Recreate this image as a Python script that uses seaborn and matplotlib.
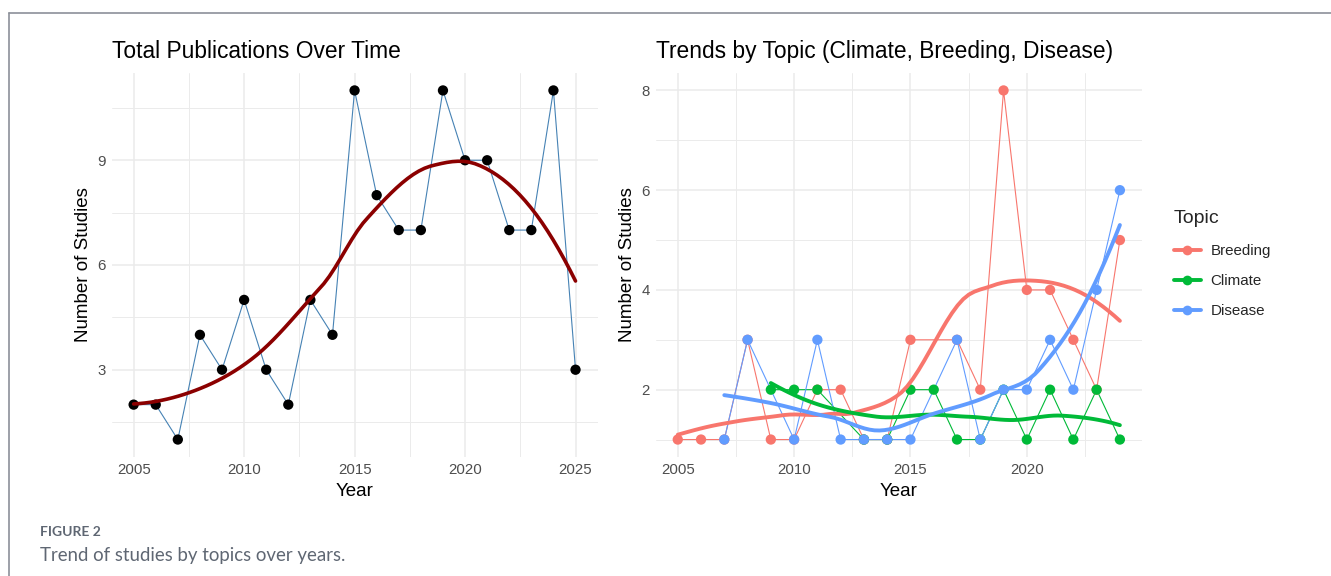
import numpy as np
import pandas as pd
import matplotlib
matplotlib.use("Agg")
import matplotlib.pyplot as plt
from matplotlib.lines import Line2D
from matplotlib.ticker import MultipleLocator
import seaborn as sns

# ---- data -------------------------------------------------------------
total_years = [2005, 2006, 2007, 2008, 2009, 2010, 2011, 2012, 2013, 2014, 2015,
               2016, 2017, 2018, 2019, 2020, 2021, 2022, 2023, 2024, 2025]
total_counts = [2, 2, 1, 4, 3, 5, 3, 2, 5, 4, 11, 8, 7, 7, 11, 9, 9, 7, 7, 11, 3]

breeding_years = [2005, 2006, 2007, 2008, 2009, 2010, 2011, 2012, 2013, 2014,
                  2015, 2017, 2018, 2019, 2020, 2021, 2022, 2023, 2024]
breeding_counts = [1, 1, 1, 3, 1, 1, 2, 2, 1, 1, 3, 3, 2, 8, 4, 4, 3, 2, 5]

climate_years = [2009, 2010, 2011, 2013, 2014, 2015, 2016, 2017, 2018, 2019,
                 2020, 2021, 2022, 2023, 2024]
climate_counts = [2, 2, 2, 1, 1, 2, 2, 1, 1, 2, 1, 2, 1, 2, 1]

disease_years = [2007, 2008, 2010, 2011, 2012, 2013, 2014, 2015, 2017, 2018,
                 2019, 2020, 2021, 2022, 2023, 2024]
disease_counts = [1, 3, 1, 3, 1, 1, 1, 1, 3, 1, 2, 2, 3, 2, 4, 6]

topics = ["Breeding", "Climate", "Disease"]
topic_colors = {"Breeding": "#F8766D", "Climate": "#00BA38", "Disease": "#619CFF"}

topic_df = pd.concat([
    pd.DataFrame({"Year": breeding_years, "Count": breeding_counts, "Topic": "Breeding"}),
    pd.DataFrame({"Year": climate_years, "Count": climate_counts, "Topic": "Climate"}),
    pd.DataFrame({"Year": disease_years, "Count": disease_counts, "Topic": "Disease"}),
], ignore_index=True)
total_df = pd.DataFrame({"Year": total_years, "Count": total_counts})


# ---- loess smoother (local quadratic, tricube weights, kd-tree vertices
#      with cubic Hermite interpolation between them) ---------------------
def _local_fit(x, y, x0, q):
    d = np.abs(x - x0)
    h = np.sort(d)[q - 1]
    w = np.clip(1 - (d / h) ** 3, 0, None) ** 3
    X = np.column_stack([np.ones(len(x)), x - x0, (x - x0) ** 2])
    sw = np.sqrt(w)
    beta, *_ = np.linalg.lstsq(X * sw[:, None], y * sw, rcond=None)
    return beta[0], beta[1]


def loess(x, y, span=0.75, cell=0.2, n_out=80):
    order = np.argsort(x)
    x = np.asarray(x, float)[order]
    y = np.asarray(y, float)[order]
    n = len(x)
    q = int(np.floor(n * span))
    fc = int(np.floor(n * span * cell))
    mu = 0.005 * (x.max() - x.min())
    verts = {x.min() - mu, x.max() + mu}

    def split(lo, hi):
        if hi - lo + 1 <= fc:
            return
        m = (lo + 1 + hi + 1) // 2 - 1
        verts.add((x[m] + x[m + 1]) / 2)
        split(lo, m)
        split(m + 1, hi)

    split(0, n - 1)
    v = np.array(sorted(verts))
    vals = np.array([_local_fit(x, y, vi, q) for vi in v])
    xs = np.linspace(x.min(), x.max(), n_out)
    out = []
    for z in xs:
        i = min(np.searchsorted(v, z, side="right") - 1, len(v) - 2)
        h = v[i + 1] - v[i]
        t = (z - v[i]) / h
        f0, s0 = vals[i]
        f1, s1 = vals[i + 1]
        out.append((2 * t**3 - 3 * t**2 + 1) * f0 + (t**3 - 2 * t**2 + t) * h * s0
                   + (-2 * t**3 + 3 * t**2) * f1 + (t**3 - t**2) * h * s1)
    return xs, np.array(out)


# ---- style ------------------------------------------------------------
sns.set_theme(style="white")
plt.rcParams["font.family"] = ["Liberation Sans", "DejaVu Sans"]

GRID = "#EBEBEB"
TICK = "#4D4D4D"

fig = plt.figure(figsize=(13.31, 5.76), dpi=100)
ax1 = fig.add_axes([0.0838, 0.2066, 0.3652, 0.6667])
ax2 = fig.add_axes([0.4926, 0.2066, 0.3654, 0.6667])


def style_axes(ax, title):
    for s in ax.spines.values():
        s.set_visible(False)
    ax.grid(which="major", color=GRID, lw=1.1)
    ax.grid(which="minor", color=GRID, lw=0.7)
    ax.set_axisbelow(True)
    ax.tick_params(which="both", length=0, labelsize=10.8, labelcolor=TICK, pad=4)
    ax.set_xlabel("Year", fontsize=13.5, color="black", labelpad=5)
    ax.set_ylabel("Number of Studies", fontsize=13.5, color="black", labelpad=4)
    ax.set_title(title, loc="left", fontsize=16.4, color="black", pad=11)


# ---- left panel: total publications ------------------------------------
sns.lineplot(data=total_df, x="Year", y="Count", ax=ax1, color="steelblue",
             lw=0.8, zorder=2)
sns.scatterplot(data=total_df, x="Year", y="Count", ax=ax1, color="black",
                s=55, edgecolor="none", zorder=3)
sx, sy = loess(total_years, total_counts)
sns.lineplot(x=sx, y=sy, ax=ax1, color="darkred", lw=2.6, zorder=4)
ax1.set_xlim(2004, 2026)
ax1.set_ylim(0.5, 11.5)
ax1.set_xticks([2005, 2010, 2015, 2020, 2025])
ax1.xaxis.set_minor_locator(MultipleLocator(2.5))
ax1.set_yticks([3, 6, 9])
ax1.set_yticks([1.5, 4.5, 7.5, 10.5], minor=True)
style_axes(ax1, "Total Publications Over Time")

# ---- right panel: trends by topic ---------------------------------------
for t in topics:
    sub = topic_df[topic_df["Topic"] == t]
    sns.lineplot(data=sub, x="Year", y="Count", ax=ax2, color=topic_colors[t],
                 lw=0.8, zorder=2)
for t in topics:
    sub = topic_df[topic_df["Topic"] == t]
    sns.scatterplot(data=sub, x="Year", y="Count", ax=ax2, color=topic_colors[t],
                    s=55, edgecolor="none", zorder=3)
for t in topics:
    sub = topic_df[topic_df["Topic"] == t]
    sx, sy = loess(sub["Year"].to_numpy(), sub["Count"].to_numpy())
    sns.lineplot(x=sx, y=sy, ax=ax2, color=topic_colors[t], lw=2.8, zorder=4)
ax2.set_xlim(2004.05, 2024.95)
ax2.set_ylim(0.65, 8.35)
ax2.set_xticks([2005, 2010, 2015, 2020])
ax2.set_xticks([2007.5, 2012.5, 2017.5, 2022.5], minor=True)
ax2.set_yticks([2, 4, 6, 8])
ax2.set_yticks([1, 3, 5, 7], minor=True)
style_axes(ax2, "Trends by Topic (Climate, Breeding, Disease)")

handles = [Line2D([0], [0], color=topic_colors[t], lw=2.8, marker="o",
                  markersize=7, markeredgewidth=0) for t in topics]
leg = fig.legend(handles, topics, title="Topic", loc="upper left",
                 bbox_to_anchor=(1166 / 1331, 1 - 202 / 576), frameon=False,
                 fontsize=10.9, title_fontsize=14, handlelength=1.8,
                 handletextpad=0.65, labelspacing=1.06, borderpad=0)
leg._legend_box.align = "left"
leg._legend_box.sep = 12.5

# ---- frame and caption ---------------------------------------------------
frame_color = "#8C9099"
fig.add_artist(Line2D([9 / 1331, 1], [1 - 12.5 / 576] * 2, color=frame_color,
                      lw=1.2, transform=fig.transFigure))
fig.add_artist(Line2D([9 / 1331] * 2, [0, 1 - 12.5 / 576], color=frame_color,
                      lw=1.2, transform=fig.transFigure))
fig.text(40 / 1331, 1 - 532 / 576, "FIGURE 2", fontsize=10, fontweight="bold",
         color="#5F6773", family=["Lato", "DejaVu Sans"], va="center")
fig.text(40 / 1331, 1 - 556 / 576, "Trend of studies by topics over years.",
         fontsize=13.4, color="#5F6773", family=["Lato", "DejaVu Sans"], va="center")

fig.savefig("out.png", dpi=100)
